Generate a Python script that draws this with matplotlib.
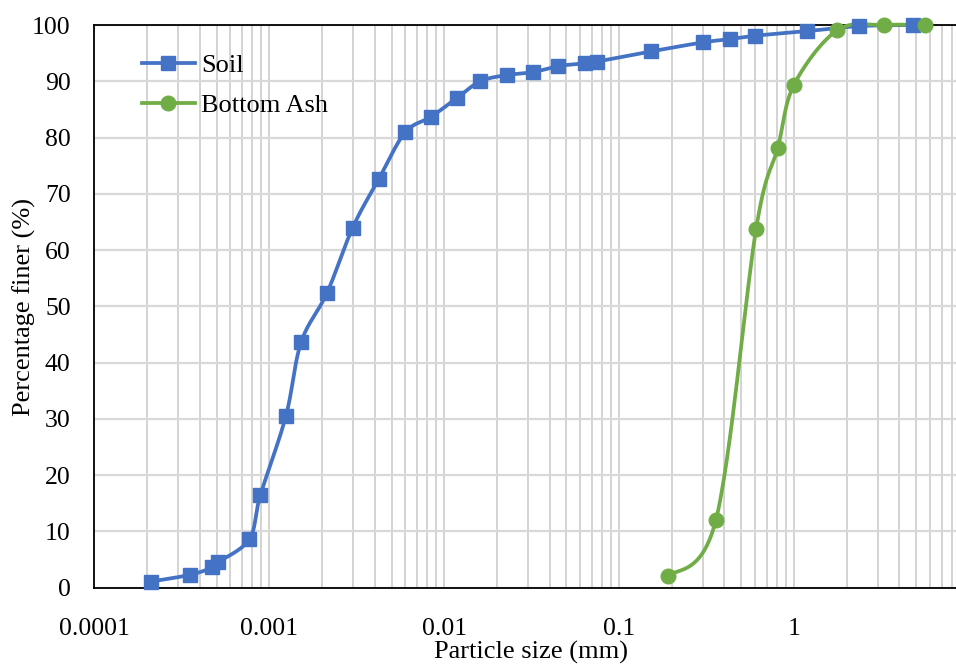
import numpy as np
import matplotlib
matplotlib.use("Agg")
import matplotlib.pyplot as plt
from matplotlib.ticker import LogLocator, FixedLocator, NullFormatter, FixedFormatter
from matplotlib.lines import Line2D

plt.rcParams["font.family"] = ["Liberation Serif", "DejaVu Serif"]

# Grain size distribution data (particle size in mm, percent finer)
soil_size = [2.11e-4, 3.54e-4, 4.72e-4, 5.09e-4, 7.69e-4, 8.89e-4, 1.245e-3, 1.52e-3,
             2.14e-3, 3.0e-3, 4.24e-3, 5.98e-3, 8.43e-3, 1.18e-2, 1.61e-2, 2.28e-2,
             3.2e-2, 4.5e-2, 6.4e-2, 7.46e-2, 0.152, 0.30, 0.43, 0.60, 1.18, 2.35, 4.8]
soil_finer = [1.1, 2.3, 3.6, 4.5, 8.6, 16.4, 30.5, 43.6,
              52.4, 64.0, 72.7, 80.9, 83.7, 87.0, 90.0, 91.1,
              91.6, 92.7, 93.2, 93.5, 95.3, 96.9, 97.5, 98.1, 98.9, 99.8, 100.0]

ash_size = [0.191, 0.358, 0.607, 0.807, 1.0, 1.77, 3.27, 5.6]
ash_finer = [2.0, 12.1, 63.8, 78.2, 89.4, 99.1, 100.0, 100.0]

x_ticks = [0.0001, 0.001, 0.01, 0.1, 1]
x_labels = ["0.0001", "0.001", "0.01", "0.1", "1"]
y_ticks = [0, 10, 20, 30, 40, 50, 60, 70, 80, 90, 100]

W, H = 956, 664
fig = plt.figure(figsize=(W / 100, H / 100), dpi=100)
left, right, top, bottom = 94.3, 969.0, 25.0, 587.7
ax = fig.add_axes([left / W, (H - bottom) / H, (right - left) / W, (bottom - top) / H])

ax.set_xscale("log")
ax.set_xlim(1e-4, 10)
ax.set_ylim(0, 100)


def smooth(xs, ys, n=30):
    """Bezier smoothing computed in display space (Catmull-Rom style)."""
    pts = ax.transData.transform(np.column_stack([xs, ys]))
    out = [pts[0]]
    m = len(pts)
    for i in range(m - 1):
        p0 = pts[i - 1] if i > 0 else pts[i]
        p1 = pts[i]
        p2 = pts[i + 1]
        p3 = pts[i + 2] if i + 2 < m else pts[i + 1]
        c1 = p1 + (p2 - p0) / 6.0
        c2 = p2 - (p3 - p1) / 6.0
        t = np.linspace(0, 1, n)[1:, None]
        seg = ((1 - t) ** 3) * p1 + 3 * ((1 - t) ** 2) * t * c1 + 3 * (1 - t) * t ** 2 * c2 + t ** 3 * p2
        out.extend(seg)
    out = np.array(out)
    data = ax.transData.inverted().transform(out)
    return data[:, 0], data[:, 1]


soil_c = "#4472C4"
ash_c = "#70AD47"
LW = 2.7

sx, sy = smooth(soil_size, soil_finer)
ax.plot(sx, sy, color=soil_c, lw=LW, zorder=3, clip_on=False, solid_capstyle="round")
ax.plot(soil_size, soil_finer, ls="none", marker="s", ms=9.8, color=soil_c, zorder=4, clip_on=False)

bx, by = smooth(ash_size, ash_finer)
ax.plot(bx, by, color=ash_c, lw=LW, zorder=3, clip_on=False, solid_capstyle="round")
ax.plot(ash_size, ash_finer, ls="none", marker="o", ms=10.5, color=ash_c, zorder=4, clip_on=False)

# Grid: all log subdivisions vertically, major steps horizontally
ax.xaxis.set_major_locator(FixedLocator(x_ticks))
ax.xaxis.set_major_formatter(FixedFormatter(x_labels))
ax.xaxis.set_minor_locator(LogLocator(base=10, subs=np.arange(2, 10), numticks=20))
ax.xaxis.set_minor_formatter(NullFormatter())
ax.yaxis.set_major_locator(FixedLocator(y_ticks))

ax.grid(True, which="major", axis="x", color="#CCCCCC", lw=1.2, zorder=0)
ax.grid(True, which="minor", axis="x", color="#CCCCCC", lw=1.2, zorder=0)
ax.grid(True, which="major", axis="y", color="#D9D9D9", lw=1.6, zorder=0)
ax.set_axisbelow(True)

ax.tick_params(axis="both", which="both", length=0, labelsize=18.5)
ax.tick_params(axis="y", pad=17)
ax.tick_params(axis="x", pad=21.5)

for side in ["left", "bottom", "top"]:
    ax.spines[side].set_color("black")
    ax.spines[side].set_linewidth(1.3)
ax.spines["right"].set_visible(False)

ax.set_xlabel("Particle size (mm)", fontsize=19)
ax.set_ylabel("Percentage finer (%)", fontsize=19)
# label anchors placed in pixel terms relative to the plot area
ax.xaxis.set_label_coords((531.5 - left) / (right - left), (bottom - 641.0) / (bottom - top))
ax.yaxis.set_label_coords((36.0 - left) / (right - left), (bottom - 306.5) / (bottom - top))

handles = [
    Line2D([], [], color=soil_c, lw=LW, marker="s", ms=9.8),
    Line2D([], [], color=ash_c, lw=LW, marker="o", ms=10.5),
]
ax.legend(handles, ["Soil", "Bottom Ash"], loc="upper left",
          bbox_to_anchor=(142 / W, (H - 54) / H), bbox_transform=fig.transFigure,
          frameon=False, fontsize=19, borderpad=0, borderaxespad=0,
          handlelength=2.0, handletextpad=0.25, labelspacing=0.61, numpoints=1)

fig.savefig("out.png", dpi=100)
